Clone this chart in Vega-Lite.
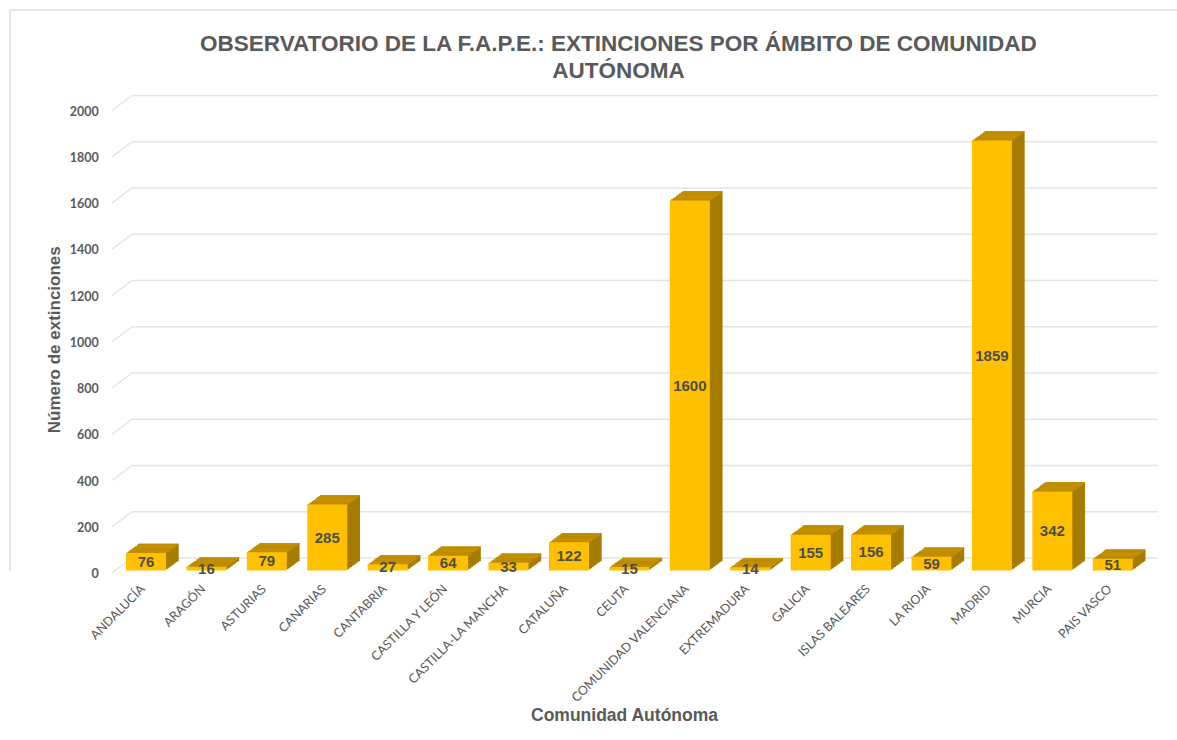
{"$schema":"https://vega.github.io/schema/vega-lite/v6.json","autosize":{"type":"none"},"padding":{"left":115.8,"top":108,"right":34,"bottom":169.5},"width":1027.2,"height":462.5,"background":"#ffffff","config":{"view":{"stroke":null},"axis":{"grid":false}},"title":{"text":["OBSERVATORIO DE LA F.A.P.E.: EXTINCIONES POR ÁMBITO DE COMUNIDAD","AUTÓNOMA"],"font":"Liberation Sans","fontWeight":"bold","fontSize":22.5,"lineHeight":27,"color":"#595959","anchor":"middle","dx":-11,"dy":73,"offset":0},"datasets":{"ca":[{"comunidad":"ANDALUCÍA","n":76},{"comunidad":"ARAGÓN","n":16},{"comunidad":"ASTURIAS","n":79},{"comunidad":"CANARIAS","n":285},{"comunidad":"CANTABRIA","n":27},{"comunidad":"CASTILLA Y LEÓN","n":64},{"comunidad":"CASTILLA-LA MANCHA","n":33},{"comunidad":"CATALUÑA","n":122},{"comunidad":"CEUTA","n":15},{"comunidad":"COMUNIDAD VALENCIANA","n":1600},{"comunidad":"EXTREMADURA","n":14},{"comunidad":"GALICIA","n":155},{"comunidad":"ISLAS BALEARES","n":156},{"comunidad":"LA RIOJA","n":59},{"comunidad":"MADRID","n":1859},{"comunidad":"MURCIA","n":342},{"comunidad":"PAIS VASCO","n":51}],"ejes":[{"v":0},{"v":200},{"v":400},{"v":600},{"v":800},{"v":1000},{"v":1200},{"v":1400},{"v":1600},{"v":1800},{"v":2000}]},"data":{"name":"ca"},"layer":[{"data":{"name":"ejes"},"mark":{"type":"rule","color":"#E4E4E4","strokeWidth":1.5,"xOffset":6,"x2Offset":44.7,"yOffset":-12.5},"encoding":{"x":{"datum":"ANDALUCÍA","bandPosition":0},"x2":{"datum":"PAIS VASCO"},"y":{"field":"v","type":"quantitative"}}},{"data":{"name":"ejes"},"mark":{"type":"point","shape":"M-1,0.75L1,-0.75","size":400,"filled":false,"stroke":"#E4E4E4","strokeWidth":1.5,"opacity":1,"xOffset":-4,"yOffset":-5},"encoding":{"x":{"datum":"ANDALUCÍA","bandPosition":0},"y":{"field":"v","type":"quantitative"}}},{"encoding":{"x":{"field":"comunidad","type":"nominal","sort":null,"scale":{"domain":["ANDALUCÍA","ARAGÓN","ASTURIAS","CANARIAS","CANTABRIA","CASTILLA Y LEÓN","CASTILLA-LA MANCHA","CATALUÑA","CEUTA","COMUNIDAD VALENCIANA","EXTREMADURA","GALICIA","ISLAS BALEARES","LA RIOJA","MADRID","MURCIA","PAIS VASCO"],"paddingInner":0.338,"paddingOuter":0.169},"axis":{"title":"Comunidad Autónoma","titleFont":"Liberation Sans","titleFontWeight":"bold","titleFontSize":17.5,"titleColor":"#595959","titleX":508.2,"titleY":144.5,"titleBaseline":"middle","titleAlign":"center","domain":false,"ticks":false,"labelAngle":-45,"labelAlign":"right","labelBaseline":"middle","labelFont":"Lato","labelFontSize":12.5,"labelColor":"#595959","labelPadding":16,"labelOffset":-3,"labelOverlap":false}},"y":{"field":"n","type":"quantitative","scale":{"domain":[0,2000],"nice":false},"axis":{"values":[0,200,400,600,800,1000,1200,1400,1600,1800,2000],"format":"d","title":"Número de extinciones","titleFont":"Liberation Sans","titleFontWeight":"bold","titleFontSize":17,"titleColor":"#595959","titlePadding":6,"domain":false,"ticks":false,"grid":false,"labelFont":"Lato","labelFontWeight":"bold","labelFontSize":12.5,"labelColor":"#595959","labelPadding":17.5,"labelOffset":3}}},"layer":[{"mark":{"type":"bar","color":"#A67C00","xOffset":1.59,"yOffset":-1.16,"y2Offset":-1.16}},{"mark":{"type":"bar","color":"#A67C00","xOffset":3.18,"yOffset":-2.33,"y2Offset":-2.33}},{"mark":{"type":"bar","color":"#A67C00","xOffset":4.76,"yOffset":-3.49,"y2Offset":-3.49}},{"mark":{"type":"bar","color":"#A67C00","xOffset":6.35,"yOffset":-4.65,"y2Offset":-4.65}},{"mark":{"type":"bar","color":"#A67C00","xOffset":7.94,"yOffset":-5.81,"y2Offset":-5.81}},{"mark":{"type":"bar","color":"#A67C00","xOffset":9.53,"yOffset":-6.98,"y2Offset":-6.98}},{"mark":{"type":"bar","color":"#A67C00","xOffset":11.11,"yOffset":-8.14,"y2Offset":-8.14}},{"mark":{"type":"bar","color":"#A67C00","xOffset":12.7,"yOffset":-9.3,"y2Offset":-9.3}},{"mark":{"type":"bar","color":"#C49000","xOffset":0,"yOffset":0,"y2Offset":1.2},"encoding":{"y2":{"field":"n"}}},{"mark":{"type":"bar","color":"#C49000","xOffset":1.59,"yOffset":-1.16,"y2Offset":0.04},"encoding":{"y2":{"field":"n"}}},{"mark":{"type":"bar","color":"#C49000","xOffset":3.18,"yOffset":-2.33,"y2Offset":-1.13},"encoding":{"y2":{"field":"n"}}},{"mark":{"type":"bar","color":"#C49000","xOffset":4.76,"yOffset":-3.49,"y2Offset":-2.29},"encoding":{"y2":{"field":"n"}}},{"mark":{"type":"bar","color":"#C49000","xOffset":6.35,"yOffset":-4.65,"y2Offset":-3.45},"encoding":{"y2":{"field":"n"}}},{"mark":{"type":"bar","color":"#C49000","xOffset":7.94,"yOffset":-5.81,"y2Offset":-4.61},"encoding":{"y2":{"field":"n"}}},{"mark":{"type":"bar","color":"#C49000","xOffset":9.53,"yOffset":-6.98,"y2Offset":-5.78},"encoding":{"y2":{"field":"n"}}},{"mark":{"type":"bar","color":"#C49000","xOffset":11.11,"yOffset":-8.14,"y2Offset":-6.94},"encoding":{"y2":{"field":"n"}}},{"mark":{"type":"bar","color":"#C49000","xOffset":12.7,"yOffset":-9.3,"y2Offset":-8.1},"encoding":{"y2":{"field":"n"}}},{"mark":{"type":"bar","color":"#FFC000"}},{"transform":[{"calculate":"datum.n/2","as":"mitad"}],"mark":{"type":"text","font":"Liberation Sans","fontWeight":"bold","fontSize":15,"color":"#4d4d4d","align":"center","baseline":"middle"},"encoding":{"y":{"field":"mitad","type":"quantitative"},"text":{"field":"n","type":"quantitative"}}}]},{"data":{"name":"ejes"},"transform":[{"filter":"datum.v==0"}],"mark":{"type":"rule","color":"#DEDEDE","strokeWidth":1.5,"xOffset":-116,"yOffset":-98,"y2Offset":169.5},"encoding":{"x":{"datum":"ANDALUCÍA","bandPosition":0}}},{"data":{"name":"ejes"},"transform":[{"filter":"datum.v==2000"}],"mark":{"type":"rule","color":"#DEDEDE","strokeWidth":1.5,"xOffset":-116,"x2Offset":85,"yOffset":-98},"encoding":{"x":{"datum":"ANDALUCÍA","bandPosition":0},"x2":{"datum":"PAIS VASCO"},"y":{"field":"v","type":"quantitative"}}}]}
